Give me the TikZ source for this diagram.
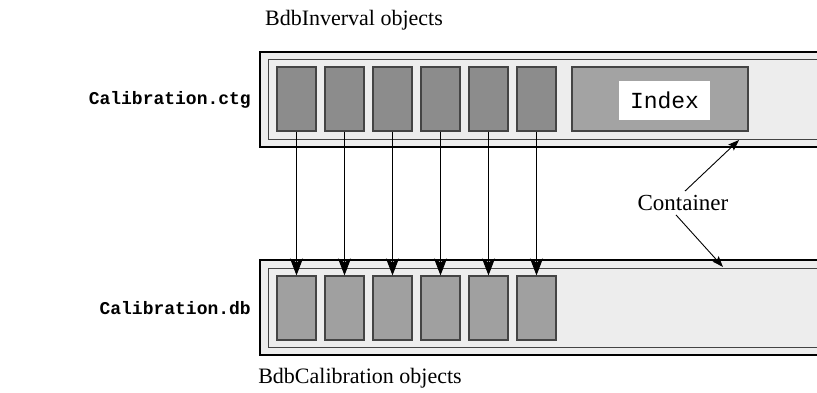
\documentclass[tikz,border=0pt]{standalone}
\usepackage{fontspec}
\setmainfont{Liberation Serif}
\setmonofont{Liberation Mono}
\usetikzlibrary{arrows.meta}
\definecolor{wallgray}{HTML}{EDEDED}
\definecolor{edgegray}{HTML}{444444}
\definecolor{ivgray}{HTML}{8C8C8C}
\definecolor{calgray}{HTML}{A0A0A0}
\definecolor{idxgray}{HTML}{A3A3A3}
\tikzset{
  outerwall/.style={draw=black,line width=2.4pt,fill=wallgray},
  innerwall/.style={draw=edgegray,line width=1pt},
  objbox/.style={draw=edgegray,line width=1.2pt,minimum width=39pt,minimum height=64pt,inner sep=0pt},
  caption/.style={font=\fontsize{22}{26}\selectfont,inner sep=0pt},
  dbname/.style={font=\fontsize{18}{22}\selectfont\ttfamily\bfseries,inner sep=0pt,anchor=east},
  link/.style={line width=0.9pt,-{Stealth[length=17pt,width=13pt,inset=4pt]}},
  pointer/.style={line width=0.9pt,-{Stealth[length=11pt,width=8pt,inset=2pt]}}
}
\begin{document}
\begin{tikzpicture}[x=1pt,y=-1pt]
	\useasboundingbox (0,0) rectangle (817,392);
	\clip (0,0) rectangle (817,392);
		% containers
		\draw[outerwall] (260,52) rectangle (840,147);
		\draw[innerwall] (268,59) rectangle (840,139);
		\draw[outerwall] (260,260) rectangle (840,355);
		\draw[innerwall] (268,268) rectangle (840,347);
		
		
		\foreach \i in {0,...,5}{
			\node[objbox,fill=ivgray] (iv\i) at ({296.5+48*\i},99) {};
			\node[objbox,fill=calgray] (cal\i) at ({296.5+48*\i},308) {};
			\draw[link] (iv\i.south) -- (cal\i.north);
		}
		
		\node[objbox,fill=idxgray,minimum width=176pt] (index) at (660,99) {};
		\node[fill=white,minimum width=91pt,minimum height=39pt,inner sep=0pt,
			font=\fontsize{23}{27}\selectfont\ttfamily] (idxlabel) at (664.5,100.5) {Index};
		
		
		\node[dbname] (ctg) at (251,100) {Calibration.ctg};
		\node[dbname] (db) at (251,308) {Calibration.db};
		\node[caption] (ivtext) at (354,20) {BdbInverval objects};
		\node[caption] (caltext) at (360,378) {BdbCalibration objects};
		\node[caption,font=\fontsize{23}{27}\selectfont] (cont) at (683,203) {Container};
		
		\coordinate (topwall) at (739,140);
		\coordinate (botwall) at (723,267);
		\draw[pointer] (cont.north) ++(2,-4) -- (topwall);
		\draw[pointer] (cont.south) ++(-7,4) -- (botwall);
	\end{tikzpicture}
\end{document}
